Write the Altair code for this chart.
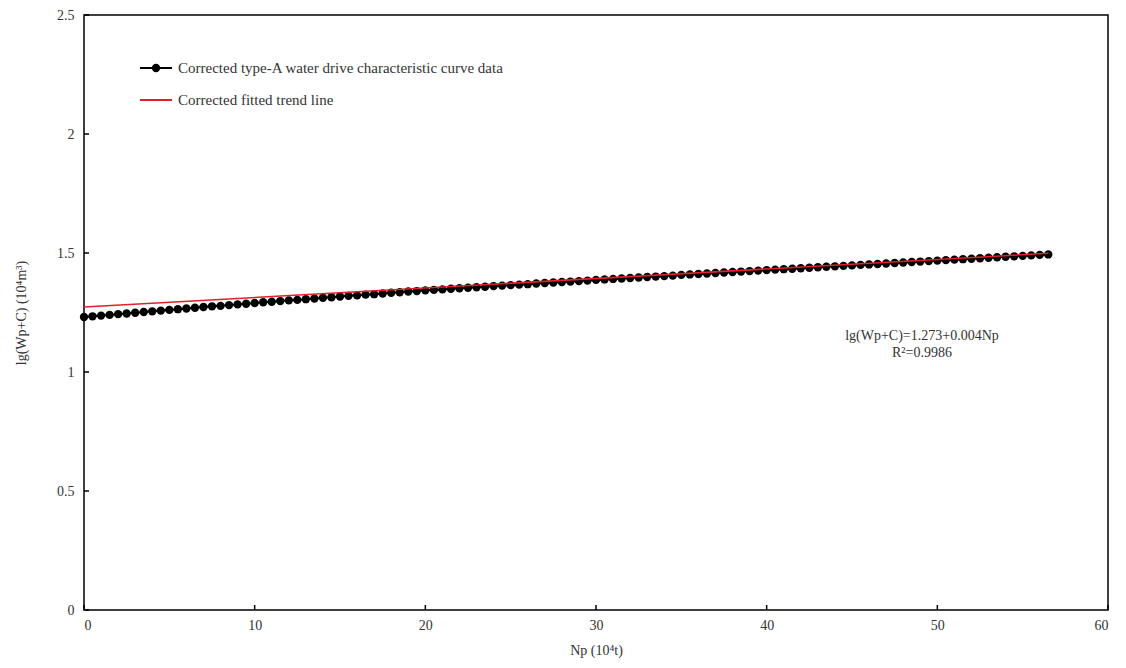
import altair as alt
import pandas as pd

np_vals = [i * 0.5 for i in range(114)]
lg_vals = [
    1.231, 1.234, 1.237, 1.240, 1.243, 1.246, 1.249, 1.252, 1.255, 1.258,
    1.261, 1.264, 1.267, 1.270, 1.273, 1.276, 1.278, 1.281, 1.284, 1.287,
    1.290, 1.293, 1.295, 1.298, 1.301, 1.303, 1.306, 1.309, 1.312, 1.314,
    1.317, 1.320, 1.322, 1.325, 1.327, 1.330, 1.333, 1.335, 1.338, 1.340,
    1.343, 1.345, 1.347, 1.350, 1.352, 1.354, 1.356, 1.358, 1.361, 1.363,
    1.365, 1.367, 1.369, 1.372, 1.374, 1.376, 1.378, 1.380, 1.382, 1.384,
    1.387, 1.389, 1.391, 1.393, 1.395, 1.397, 1.399, 1.401, 1.403, 1.405,
    1.408, 1.410, 1.412, 1.414, 1.416, 1.418, 1.420, 1.422, 1.424, 1.426,
    1.428, 1.430, 1.432, 1.434, 1.436, 1.438, 1.440, 1.442, 1.444, 1.446,
    1.448, 1.450, 1.452, 1.454, 1.456, 1.458, 1.460, 1.462, 1.464, 1.466,
    1.468, 1.470, 1.472, 1.474, 1.476, 1.478, 1.480, 1.482, 1.484, 1.486,
    1.488, 1.490, 1.492, 1.494,
]
fit_np = [0, 56.5]
fit_lg = [1.273, 1.499]

x_ticks = [0, 10, 20, 30, 40, 50, 60]
y_ticks = [0, 0.5, 1, 1.5, 2, 2.5]

series_names = ["Corrected type-A water drive characteristic curve data",
                "Corrected fitted trend line"]
annot_text = ["lg(Wp+C)=1.273+0.004Np", "R²=0.9986"]
annot_np = [49.1, 49.1]
annot_lg = [1.151, 1.078]

FONT = "Liberation Serif"
W, H = 1024, 595

data = pd.DataFrame({"Np": np_vals, "lg": lg_vals})
fit = pd.DataFrame({"Np": fit_np, "lg": fit_lg})
annot = pd.DataFrame({"Np": annot_np, "lg": annot_lg, "t": annot_text})
xt = pd.DataFrame({"v": x_ticks})
yt = pd.DataFrame({"v": y_ticks})

xs = alt.Scale(domain=[0, 60], nice=False, zero=False)
ys = alt.Scale(domain=[0, 2.5], nice=False, zero=False)

axis_style = dict(labelFont=FONT, titleFont=FONT, labelFontSize=14, titleFontSize=14,
                  labelColor="#333", titleColor="#333", titleFontWeight="normal",
                  tickSize=0, grid=False, domain=False)

x_enc = alt.X("Np:Q", scale=xs, axis=alt.Axis(
    values=x_ticks, title="Np (10⁴t)", labelPadding=8, titlePadding=11, **axis_style))
y_enc = alt.Y("lg:Q", scale=ys, axis=alt.Axis(
    values=y_ticks, title="lg(Wp+C) (10⁴m³)", labelPadding=10, titlePadding=28,
    format="~g", **axis_style))

line = alt.Chart(data).mark_line(color="black", strokeWidth=2).encode(x=x_enc, y=y_enc)
pts = alt.Chart(data).mark_circle(color="black", size=70, opacity=1).encode(x="Np:Q", y="lg:Q")
trend = alt.Chart(fit).mark_line(color="#e0202a", strokeWidth=1.6).encode(x="Np:Q", y="lg:Q")

ann = alt.Chart(annot).mark_text(font=FONT, fontSize=14, color="#333", align="center").encode(
    x="Np:Q", y="lg:Q", text="t:N")

xtick = alt.Chart(xt).mark_rule(color="black", strokeWidth=1.5).encode(
    x=alt.X("v:Q", scale=xs), y=alt.value(H), y2=alt.value(H - 5))
ytick = alt.Chart(yt).mark_rule(color="black", strokeWidth=1.5).encode(
    y=alt.Y("v:Q", scale=ys), x=alt.value(0), x2=alt.value(5))

leg_y = [53, 85]
leg_a = pd.DataFrame({"name": [series_names[0]]})
leg_b = pd.DataFrame({"name": [series_names[1]]})
l1 = alt.Chart(leg_a).mark_rule(color="black", strokeWidth=2).encode(
    x=alt.value(56), x2=alt.value(88), y=alt.value(leg_y[0]))
l1p = alt.Chart(leg_a).mark_circle(color="black", size=70, opacity=1).encode(
    x=alt.value(72), y=alt.value(leg_y[0]))
l1t = alt.Chart(leg_a).mark_text(font=FONT, fontSize=15, color="#333", align="left", baseline="middle").encode(
    x=alt.value(94), y=alt.value(leg_y[0]), text="name:N")
l2 = alt.Chart(leg_b).mark_rule(color="#e0202a", strokeWidth=2).encode(
    x=alt.value(56), x2=alt.value(88), y=alt.value(leg_y[1]))
l2t = alt.Chart(leg_b).mark_text(font=FONT, fontSize=15, color="#333", align="left", baseline="middle").encode(
    x=alt.value(94), y=alt.value(leg_y[1]), text="name:N")

chart = alt.layer(line, pts, trend, ann, xtick, ytick, l1, l1p, l1t, l2, l2t).properties(
    width=W, height=H,
    background="white",
    autosize=alt.AutoSizeParams(type="none"),
    padding={"left": 76, "top": 7, "right": 10, "bottom": 52},
).configure_view(stroke="black", strokeWidth=1.5)

chart.save("out.html", embed_options={"renderer": "svg", "actions": False})
